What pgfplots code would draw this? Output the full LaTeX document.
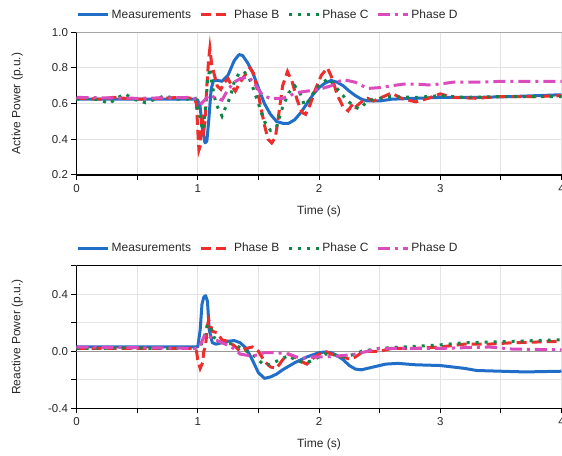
\documentclass[border=0pt]{standalone}
\usepackage{fontspec}
\setmainfont{Liberation Sans}
\usepackage{pgfplots}
\pgfplotsset{compat=1.18}
\definecolor{cblue}{RGB}{33,110,201}
\definecolor{cred}{RGB}{238,45,45}
\definecolor{cgreen}{RGB}{16,133,72}
\definecolor{cmag}{RGB}{220,75,190}
\definecolor{cgrid}{RGB}{228,228,228}
\definecolor{ctext}{RGB}{40,40,40}
\pgfplotsset{
  base/.style={
    scale only axis, width=485pt,
    xmin=0, xmax=4,
    axis lines=left, axis line style={-, line width=1.2pt, black},
    tick align=outside, major tick length=5pt, minor tick length=5pt,
    tick style={black, line width=1pt},
    xtick={0,1,2,3,4}, minor xtick={0.5,1.5,2.5,3.5},
    grid=both, grid style={cgrid, line width=1pt},
    /pgf/number format/assume math mode=true,
    tick label style={font=\fontsize{11.5}{13}\selectfont, text=ctext},
    xticklabel style={yshift=-1pt},
    label style={font=\fontsize{12}{14}\selectfont, text=ctext},
    xlabel={Time (s)},
    xlabel style={at={(axis description cs:0.5,0)}, anchor=center, yshift=-36pt},
    ylabel style={at={(axis description cs:-0.122,0.5)}, rotate=0, anchor=center},
    legend style={at={(axis description cs:0,1)}, anchor=west, yshift=17.5pt,
      draw=none, fill=none, inner xsep=0pt, inner ysep=0pt,
      font=\fontsize{12}{14}\selectfont, text=ctext,
      nodes={inner xsep=2pt},
      /tikz/every even column/.append style={column sep=6pt}},
    legend columns=-1,
    legend image code/.code={\draw[#1] (0pt,0pt) -- (30pt,0pt);},
  },
  meas/.style={cblue, line width=3pt, line join=round},
  phb/.style={cred, line width=3pt, dash pattern=on 10pt off 5pt},
  phc/.style={cgreen, line width=3pt, dash pattern=on 3pt off 6pt},
  phd/.style={cmag, line width=3pt, dash pattern=on 12pt off 5pt on 3pt off 5pt},
}
\begin{document}
\begin{tikzpicture}
\path[use as bounding box] (0pt,0pt) rectangle (562pt,455pt);
% ---------------- top: active power
\begin{axis}[base, at={(76.5pt,280pt)}, anchor=south west, height=142.7pt,
  ymin=0.2, ymax=1.0, ytick={0.2,0.4,0.6,0.8,1.0},
  yticklabel style={/pgf/number format/.cd, fixed, fixed zerofill, precision=1},
  ylabel={Active Power (p.u.)}]
\draw[gray!70, line width=1pt] (rel axis cs:0,1) -- (rel axis cs:1,1);
\addplot[meas] coordinates {(0,0.625)(0.5,0.625)(0.98,0.625)(1.0,0.62)(1.02,0.58)(1.04,0.45)(1.06,0.38)(1.075,0.39)(1.09,0.5)(1.11,0.68)(1.13,0.73)(1.17,0.73)(1.2,0.725)(1.25,0.76)(1.3,0.84)(1.34,0.875)(1.37,0.87)(1.41,0.83)(1.45,0.78)(1.5,0.69)(1.55,0.6)(1.6,0.54)(1.65,0.5)(1.7,0.49)(1.75,0.49)(1.8,0.51)(1.85,0.55)(1.9,0.6)(1.95,0.65)(2.0,0.69)(2.05,0.715)(2.1,0.73)(2.15,0.72)(2.2,0.7)(2.25,0.67)(2.3,0.645)(2.35,0.625)(2.4,0.615)(2.5,0.615)(2.6,0.625)(2.8,0.63)(3.0,0.635)(3.3,0.635)(3.6,0.64)(4.0,0.65)};
\addlegendentry{Measurements}
\addplot[phb] coordinates {(0,0.63)(0.2,0.625)(0.3,0.635)(0.5,0.625)(0.7,0.63)(0.85,0.635)(0.97,0.63)(0.99,0.6)(1.0,0.45)(1.01,0.34)(1.02,0.36)(1.035,0.55)(1.05,0.45)(1.06,0.5)(1.075,0.7)(1.09,0.85)(1.1,0.91)(1.115,0.82)(1.13,0.78)(1.16,0.7)(1.19,0.68)(1.22,0.72)(1.25,0.74)(1.28,0.7)(1.31,0.67)(1.35,0.72)(1.4,0.77)(1.43,0.8)(1.46,0.77)(1.5,0.65)(1.55,0.48)(1.58,0.4)(1.61,0.38)(1.64,0.41)(1.67,0.55)(1.7,0.7)(1.74,0.78)(1.78,0.72)(1.82,0.62)(1.86,0.55)(1.89,0.54)(1.93,0.6)(1.97,0.68)(2.02,0.76)(2.07,0.8)(2.11,0.74)(2.15,0.65)(2.2,0.58)(2.24,0.56)(2.28,0.6)(2.3,0.58)(2.35,0.61)(2.4,0.63)(2.45,0.615)(2.5,0.63)(2.6,0.66)(2.65,0.64)(2.7,0.625)(2.8,0.61)(2.9,0.63)(3.0,0.655)(3.1,0.635)(3.3,0.63)(3.5,0.64)(3.8,0.64)(4.0,0.645)};
\addlegendentry{Phase B}
\addplot[phc] coordinates {(0,0.625)(0.1,0.63)(0.2,0.62)(0.27,0.6)(0.33,0.63)(0.4,0.655)(0.47,0.625)(0.57,0.605)(0.65,0.625)(0.73,0.645)(0.82,0.625)(0.9,0.625)(0.98,0.63)(1.02,0.52)(1.04,0.45)(1.06,0.55)(1.08,0.72)(1.1,0.8)(1.12,0.7)(1.15,0.6)(1.2,0.53)(1.23,0.58)(1.27,0.64)(1.3,0.72)(1.34,0.77)(1.38,0.78)(1.42,0.75)(1.46,0.68)(1.5,0.6)(1.55,0.5)(1.6,0.45)(1.65,0.47)(1.7,0.58)(1.75,0.66)(1.8,0.7)(1.85,0.65)(1.88,0.59)(1.92,0.62)(1.97,0.68)(2.03,0.72)(2.08,0.74)(2.13,0.7)(2.18,0.66)(2.23,0.62)(2.28,0.59)(2.33,0.57)(2.38,0.6)(2.43,0.62)(2.5,0.63)(2.6,0.64)(2.8,0.635)(3.0,0.645)(3.2,0.635)(3.5,0.64)(4.0,0.64)};
\addlegendentry{Phase C}
\addplot[phd] coordinates {(0,0.635)(0.5,0.63)(0.95,0.635)(1.0,0.62)(1.03,0.6)(1.07,0.63)(1.1,0.65)(1.15,0.63)(1.2,0.62)(1.25,0.68)(1.3,0.72)(1.35,0.74)(1.42,0.75)(1.47,0.71)(1.52,0.66)(1.56,0.64)(1.6,0.63)(1.7,0.63)(1.75,0.64)(1.8,0.66)(1.9,0.67)(2.0,0.68)(2.1,0.7)(2.15,0.72)(2.2,0.735)(2.3,0.72)(2.4,0.685)(2.5,0.69)(2.6,0.7)(2.7,0.71)(2.8,0.71)(2.9,0.705)(3.0,0.71)(3.1,0.72)(3.3,0.72)(3.5,0.725)(4.0,0.725)};
\addlegendentry{Phase D}
\end{axis}
% ---------------- bottom: reactive power
\begin{axis}[base, at={(76.5pt,46.7pt)}, anchor=south west, height=142.6pt,
  ymin=-0.4, ymax=0.6, ytick={-0.4,0,0.4}, yticklabels={-0.4,0.0,0.4},
  minor ytick={-0.2,0.2,0.6},
  ylabel={Reactive Power (p.u.)}]
\draw[gray!80, line width=1pt] (rel axis cs:0,0.4) -- (rel axis cs:1,0.4);
\draw[black, line width=1.2pt] (rel axis cs:0,1) -- (rel axis cs:1,1);
\addplot[meas] coordinates {(0,0.03)(0.5,0.03)(1.0,0.03)(1.02,0.15)(1.035,0.33)(1.05,0.38)(1.065,0.39)(1.08,0.35)(1.095,0.15)(1.12,0.06)(1.15,0.05)(1.2,0.06)(1.25,0.07)(1.3,0.075)(1.35,0.06)(1.4,0.02)(1.45,-0.06)(1.5,-0.15)(1.55,-0.19)(1.6,-0.18)(1.65,-0.16)(1.7,-0.13)(1.8,-0.08)(1.9,-0.04)(2.0,-0.01)(2.05,-0.005)(2.1,-0.01)(2.15,-0.03)(2.2,-0.06)(2.25,-0.1)(2.3,-0.125)(2.35,-0.13)(2.45,-0.11)(2.55,-0.09)(2.65,-0.085)(2.8,-0.095)(3.0,-0.1)(3.2,-0.12)(3.3,-0.135)(3.5,-0.14)(3.7,-0.145)(4.0,-0.14)};
\addlegendentry{Measurements}
\addplot[phb] coordinates {(0,0.02)(0.5,0.02)(0.97,0.02)(0.99,0.0)(1.0,-0.06)(1.02,-0.12)(1.04,-0.08)(1.05,0.0)(1.065,0.04)(1.08,0.18)(1.09,0.22)(1.1,0.2)(1.12,0.14)(1.16,0.13)(1.2,0.08)(1.25,0.07)(1.3,0.04)(1.35,0.0)(1.4,0.02)(1.45,0.03)(1.5,0.0)(1.55,-0.07)(1.6,-0.11)(1.65,-0.12)(1.7,-0.06)(1.75,-0.02)(1.8,-0.04)(1.85,-0.07)(1.9,-0.09)(1.95,-0.05)(2.0,-0.02)(2.05,0.0)(2.1,-0.02)(2.15,-0.03)(2.2,-0.04)(2.25,-0.055)(2.3,-0.04)(2.35,-0.01)(2.4,0.0)(2.5,0.0)(2.6,0.02)(2.8,0.02)(3.0,0.03)(3.2,0.05)(3.4,0.05)(3.6,0.06)(4.0,0.07)};
\addlegendentry{Phase B}
\addplot[phc] coordinates {(0,0.02)(0.2,0.02)(0.4,0.025)(0.6,0.02)(0.8,0.02)(1.0,0.02)(1.03,0.05)(1.06,0.12)(1.08,0.19)(1.1,0.18)(1.13,0.1)(1.2,0.06)(1.3,0.05)(1.38,0.01)(1.45,-0.02)(1.5,-0.06)(1.55,-0.1)(1.6,-0.09)(1.65,-0.07)(1.7,-0.05)(1.75,-0.03)(1.8,-0.06)(1.87,-0.08)(1.93,-0.07)(2.0,-0.04)(2.05,-0.02)(2.1,-0.02)(2.2,-0.04)(2.3,-0.02)(2.35,0.0)(2.5,0.02)(2.7,0.03)(2.9,0.04)(3.0,0.045)(3.2,0.06)(3.4,0.065)(3.6,0.07)(4.0,0.08)};
\addlegendentry{Phase C}
\addplot[phd] coordinates {(0,0.03)(0.5,0.025)(1.0,0.02)(1.03,0.06)(1.06,0.12)(1.1,0.1)(1.15,0.08)(1.2,0.06)(1.28,0.03)(1.35,-0.02)(1.42,-0.03)(1.47,-0.03)(1.55,-0.01)(1.65,-0.01)(1.75,-0.02)(1.85,-0.05)(1.95,-0.04)(2.05,-0.04)(2.2,-0.03)(2.3,-0.02)(2.4,0.0)(2.5,0.02)(2.7,0.02)(3.0,0.02)(3.2,0.025)(3.4,0.03)(3.6,0.015)(4.0,0.01)};
\addlegendentry{Phase D}
\end{axis}
\end{tikzpicture}
\end{document}
